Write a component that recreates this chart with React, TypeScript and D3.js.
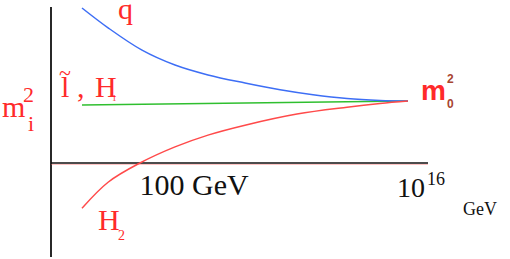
import * as d3 from 'd3'

// log10(E / GeV) samples and m^2 in units of m0^2 (schematic RG running)
const qLogE = [-1, 0.36, 2.13, 3.85, 5.57, 7.5, 9.33, 11.05, 12.82, 14.54, 16]
const qMass = [2.5, 2.18, 1.82, 1.58, 1.42, 1.29, 1.18, 1.1, 1.04, 1.01, 1.0]
const h2LogE = [-1, 0.36, 2.02, 3.85, 5.57, 7.5, 10.21, 12.82, 14.54, 16]
const h2Mass = [-0.73, -0.31, 0, 0.26, 0.45, 0.61, 0.79, 0.9, 0.96, 1.0]
const lhLogE = [-1, 16]
const lhMass = [0.935, 1.0]
const tickLogE = [2, 16]

const W = 510
const H = 259

const App = () => {
    const x = d3.scaleLinear().domain([-1, 16]).range([82, 408])
    const y = d3.scaleLinear().domain([0, 1]).range([163, 101])

    const line = (xs: number[], ys: number[]) =>
        d3.line<number>()
            .x((d, i) => x(xs[i]))
            .y(d => y(d))
            .curve(d3.curveCatmullRom.alpha(0.5))(ys) as string

    const serif = 'Liberation Serif, Times New Roman, serif'
    const sans = 'Liberation Sans, Arial, sans-serif'
    const red = '#ff2a2a'

    return (
        <svg width={W} height={H} style={{ position: 'absolute', left: 0, top: 0, background: '#fff' }}>
            {/* axes */}
            <line x1={51} x2={51} y1={7} y2={257} stroke="#111" strokeWidth={1.8} />
            <line x1={51} x2={428} y1={y(0)} y2={y(0)} stroke="#111" strokeWidth={1.6} />
            <line x1={51} x2={428} y1={y(0) + 1.4} y2={y(0) + 1.4} stroke="#ff6060" strokeWidth={0.8} opacity={0.5} />

            {/* curves */}
            <path d={line(lhLogE, lhMass)} fill="none" stroke="#2fbf2f" strokeWidth={1.6} />
            <path d={line(qLogE, qMass)} fill="none" stroke="#3d6ef5" strokeWidth={1.5} />
            <path d={line(h2LogE, h2Mass)} fill="none" stroke="#ff4a4a" strokeWidth={1.5} />

            {/* y label m_i^2 */}
            <text x={2} y={117} fontFamily={serif} fontSize={30} fill={red}>
                m
                <tspan x={23} y={102} fontSize={22}>2</tspan>
                <tspan x={28} y={131} fontSize={22}>i</tspan>
            </text>

            {/* curve labels */}
            <text x={118} y={19} fontFamily={serif} fontSize={30} fill={red}>q</text>
            <text x={61} y={97} fontFamily={serif} fontSize={30} fill={red}>
                l
                <tspan x={59} y={80} fontSize={22}>~</tspan>
                <tspan x={77} y={97}>,</tspan>
                <tspan x={95} y={97}>H</tspan>
                <tspan x={112} y={101} fontSize={9}>1</tspan>
            </text>
            <text x={98} y={230} fontFamily={serif} fontSize={30} fill={red}>
                H
                <tspan x={118} y={240} fontSize={14}>2</tspan>
            </text>

            {/* m0^2 */}
            <text x={421} y={100} fontFamily={sans} fontWeight="bold" fontSize={28} fill={red}>
                m
                <tspan x={447} y={83} fontSize={12} fill="#a8452f">2</tspan>
                <tspan x={447} y={108} fontSize={12} fill="#a8452f">0</tspan>
            </text>

            {/* tick labels */}
            <text x={x(tickLogE[0])} y={195} fontFamily={serif} fontSize={30} fill="#111">100 GeV</text>
            <text x={x(tickLogE[1]) - 11} y={197} fontFamily={serif} fontSize={28} fill="#111">
                10
                <tspan x={x(tickLogE[1]) + 19} y={185} fontSize={18}>16</tspan>
            </text>
            <text x={463} y={215} fontFamily={serif} fontSize={18} fill="#111">GeV</text>
        </svg>
    )
}

export default App
